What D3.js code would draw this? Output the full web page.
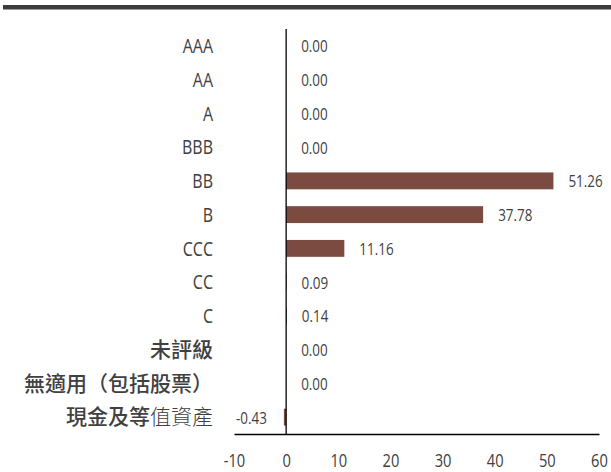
<!DOCTYPE html>
<html>
<head>
<meta charset="utf-8">
<script src="https://cdn.jsdelivr.net/npm/d3@7"></script>
<style>
  html, body { margin: 0; padding: 0; background: #ffffff; }
  svg { display: block; }
</style>
</head>
<body>
<svg id="chart" width="611" height="472"></svg>
<script>
// ---- data ----
const categories = ["AAA", "AA", "A", "BBB", "BB", "B", "CCC", "CC", "C", "未評級", "無適用（包括股票）", "現金及等值資產"];
const values = [0.00, 0.00, 0.00, 0.00, 51.26, 37.78, 11.16, 0.09, 0.14, 0.00, 0.00, -0.43];
const xTicks = [-10, 0, 10, 20, 30, 40, 50, 60];

// ---- styles ----
const latinFont = "'Open Sans', 'Noto Sans', sans-serif";
const cjkFont = "'Noto Sans CJK TC', 'Noto Sans CJK SC', sans-serif";
const barColor = "#7b4a40";
const textColor = "#404040";
const fmt = d => d.toFixed(2);          // hyphen-minus, as in the reference
const fmtTick = d => String(d);

const svg = d3.select("#chart");

// top rule
svg.append("rect").attr("x", 3).attr("y", 5).attr("width", 608).attr("height", 4.5).attr("fill", "#3c3c3c");

const x = d3.scaleLinear().domain([-10, 60]).range([234, 599]);
const y = d3.scaleBand().domain(categories).range([29, 434]).paddingInner(0.5).paddingOuter(0.25);

// bars
svg.append("g").selectAll("rect").data(values).join("rect")
  .attr("x", d => x(Math.min(0, d)))
  .attr("width", d => Math.abs(x(d) - x(0)))
  .attr("y", (d, i) => y(categories[i]))
  .attr("height", y.bandwidth())
  .attr("fill", barColor);

// zero vertical axis line
svg.append("line").attr("x1", x(0)).attr("x2", x(0)).attr("y1", y.range()[0]).attr("y2", y.range()[1])
  .attr("stroke", "#000").attr("stroke-width", 1.3);

// bottom axis
const xAxis = d3.axisBottom(x).tickValues(xTicks).tickSize(0).tickPadding(0).tickFormat(fmtTick);
const gx = svg.append("g").attr("transform", "translate(0,434)").call(xAxis);
gx.select(".domain").attr("stroke", "#000").attr("stroke-width", 1.3);
gx.selectAll("text")
  .attr("x", 0).attr("y", 0).attr("dy", null)
  .attr("transform", "translate(0,33.2) scale(0.84,1)")
  .attr("font-family", latinFont).attr("font-size", 17.5).attr("fill", textColor);

// category labels
const isCJK = s => /[\u3000-\u9fff\uff00-\uffef]/.test(s);
const catG = svg.append("g");
categories.forEach((c, i) => {
  const cy = y(c) + y.bandwidth() / 2;
  const t = catG.append("text")
    .attr("dy", "0.35em")
    .attr("text-anchor", "end").attr("fill", textColor);
  if (isCJK(c)) {
    t.attr("transform", `translate(213,${cy})`)
     .attr("font-family", cjkFont).attr("font-size", 21);
    if (c === "現金及等值資產") {
      t.append("tspan").attr("font-weight", 500).text("現金及等");
      t.append("tspan").attr("font-weight", 300).text("值資產");
    } else {
      t.attr("font-weight", 500).text(c);
    }
  } else {
    t.attr("transform", `translate(213,${cy}) scale(0.78,1)`)
     .attr("font-family", latinFont).attr("font-size", 20.5).text(c);
  }
});

// value labels
svg.append("g").selectAll("text").data(values).join("text")
  .attr("transform", (d, i) => {
    const px = d < 0 ? x(d) - 17 : x(d) + 15;
    const py = y(categories[i]) + y.bandwidth() / 2 + 1;
    return `translate(${px},${py}) scale(0.84,1)`;
  })
  .attr("dy", "0.35em")
  .attr("text-anchor", d => d < 0 ? "end" : "start")
  .attr("font-family", latinFont).attr("font-size", 16).attr("fill", textColor)
  .text(d => fmt(d));
</script>
</body>
</html>
